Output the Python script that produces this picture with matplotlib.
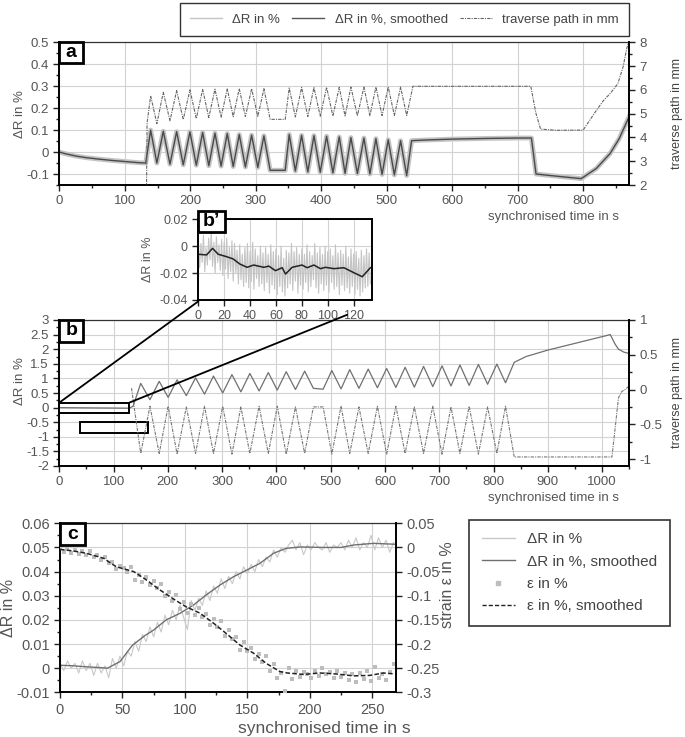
import matplotlib
matplotlib.use("Agg")
import matplotlib.pyplot as plt
from matplotlib.lines import Line2D
from matplotlib.patches import Rectangle, ConnectionPatch
from matplotlib.ticker import MultipleLocator, FuncFormatter

plt.rcParams['font.family'] = ['Liberation Sans', 'DejaVu Sans']

# ---- panel a : resistance change + traverse path ----------------------
a_pre_t = [0, 10, 25, 40, 60, 80, 100, 120, 132]
a_pre_dr = [0.0, -0.008, -0.018, -0.025, -0.032, -0.038, -0.043, -0.048, -0.05]
a_pk1_t = [139.5, 158.8, 179.2, 199.5, 218.9, 237.7, 256.5, 274.8, 293.7, 312.5]
a_pk1_dr = [0.100, 0.095, 0.093, 0.092, 0.089, 0.086, 0.084, 0.080, 0.077, 0.074]
a_pk1_tp = [5.75, 5.90, 5.97, 6.00, 6.02, 6.03, 6.04, 6.05, 6.05, 6.05]
a_tr1_t = [149, 169, 189.3, 209.2, 228.3, 247.1, 265.6, 284.2, 303.1]
a_tr1_dr = [-0.050, -0.055, -0.058, -0.060, -0.062, -0.064, -0.066, -0.068, -0.070]
a_tr1_tp = [4.58, 4.70, 4.75, 4.79, 4.83, 4.85, 4.87, 4.88, 4.88]
a_gap_t = [322, 345]
a_gap_dr = [-0.083, -0.083]
a_gap_tp = [4.76, 4.76]
a_pk2_t = [351.1, 370.0, 388.9, 408.2, 427.5, 445.3, 465.2, 483.5, 502.3, 521.2]
a_pk2_dr = [0.080, 0.076, 0.075, 0.072, 0.069, 0.066, 0.064, 0.061, 0.056, 0.052]
a_pk2_tp = [6.08, 6.10, 6.10, 6.11, 6.11, 6.12, 6.12, 6.12, 6.12, 6.12]
a_tr2_t = [360.5, 379.5, 398.5, 417.8, 436.4, 455.2, 474.3, 492.9, 511.7, 530.5]
a_tr2_dr = [-0.086, -0.090, -0.092, -0.095, -0.097, -0.098, -0.100, -0.102, -0.104, -0.107]
a_tr2_tp = [4.86, 4.88, 4.89, 4.90, 4.90, 4.91, 4.91, 4.92, 4.92, 4.92]
a_post_t = [538, 560, 600, 650, 700, 721, 728, 760, 797, 820, 841, 855, 870]
a_post_dr = [0.052, 0.055, 0.059, 0.062, 0.064, 0.064, -0.100, -0.110, -0.121, -0.075, -0.007, 0.061, 0.160]
a_tp_pre_t = [133, 134]
a_tp_pre = [1.0, 4.6]
a_tp_post_t = [540, 600, 720, 728, 735, 760, 800, 820, 831, 841, 853, 861, 866, 869]
a_tp_post = [6.15, 6.15, 6.15, 5.0, 4.35, 4.30, 4.31, 5.13, 5.55, 5.84, 6.26, 6.97, 7.67, 8.0]

# ---- panel b' : zoom of the first 134 s -------------------------------
bp_smooth_t = [0, 6.4, 11, 15.4, 21.9, 27, 32, 37.7, 42.8, 50.6, 54.5, 59.6, 64.8, 67.4,
               72.5, 80.2, 84.1, 89.3, 94.4, 98.3, 104.8, 112.5, 120.2, 126.7, 133]
bp_smooth = [-0.006, -0.0065, -0.0016, -0.006, -0.0078, -0.0095, -0.0132, -0.0157, -0.014,
             -0.0157, -0.0148, -0.0182, -0.016, -0.0207, -0.0157, -0.014, -0.016, -0.014,
             -0.0167, -0.0157, -0.0167, -0.016, -0.0197, -0.0227, -0.016]
bp_raw = [0.004, -0.016, 0.002, -0.012, 0.008, -0.019, -0.001, -0.014, 0.006, -0.010,
          0.010, -0.015, 0.003, -0.020, 0.007, -0.012, 0.001, -0.018, 0.005, -0.022,
          0.003, -0.017, 0.006, -0.024, -0.001, -0.019, 0.004, -0.026, 0.002, -0.020,
          -0.003, -0.028, 0.001, -0.025, -0.006, -0.030, -0.001, -0.027, 0.002, -0.031,
          -0.004, -0.026, 0.003, -0.032, -0.002, -0.024, -0.007, -0.030, 0.000, -0.028,
          -0.005, -0.033, -0.001, -0.027, -0.006, -0.035, 0.001, -0.029, -0.004, -0.032,
          -0.002, -0.036, -0.007, -0.030, 0.000, -0.034, -0.009, -0.037, -0.003, -0.031,
          -0.005, -0.028, 0.002, -0.033, -0.004, -0.026, -0.001, -0.035, -0.006, -0.029,
          -0.002, -0.032, -0.006, -0.027, 0.001, -0.034, -0.004, -0.030, -0.007, -0.025,
          0.002, -0.031, -0.005, -0.035, -0.001, -0.028, -0.006, -0.033, 0.000, -0.029,
          -0.004, -0.034, -0.002, -0.027, -0.007, -0.032, 0.001, -0.030, -0.005, -0.036,
          -0.003, -0.029, -0.006, -0.033, 0.000, -0.031, -0.008, -0.035, -0.002, -0.030,
          -0.006, -0.036, -0.004, -0.032, -0.009, -0.037, -0.003, -0.034, -0.007, -0.031,
          -0.002, -0.030, -0.005, -0.028]
bp_raw_t = list(range(len(bp_raw)))

# ---- panel b : long test ----------------------------------------------
b_pre_t = [0, 60, 129, 136]
b_pre_dr = [0.0, -0.01, -0.02, 0.05]
b_bot_t = [150, 184, 217, 251, 284, 318, 351, 385, 418, 452,
           502, 535, 569, 603, 637, 671, 705, 738, 772, 806]
b_bot_dr = [0.83, 0.90, 0.95, 1.02, 1.08, 1.13, 1.17, 1.20, 1.23, 1.25,
            1.27, 1.30, 1.32, 1.34, 1.38, 1.41, 1.43, 1.46, 1.48, 1.49]
b_bot_tp = [-0.92, -0.92, -0.93, -0.92, -0.92, -0.93, -0.92, -0.92, -0.93, -0.92,
            -0.93, -0.92, -0.92, -0.93, -0.92, -0.92, -0.93, -0.92, -0.93, -0.92]
b_top_t = [167, 200.5, 234, 267.5, 301, 334.5, 368, 401.5, 435, 468, 486,
           519, 552, 586, 620, 654, 688, 721.5, 755, 789, 822]
b_top_dr = [0.27, 0.35, 0.41, 0.46, 0.50, 0.54, 0.57, 0.60, 0.62, 0.66, 0.63,
            0.64, 0.66, 0.68, 0.69, 0.70, 0.72, 0.74, 0.76, 0.80, 0.85]
b_top_tp = [-0.24, -0.24, -0.25, -0.24, -0.24, -0.25, -0.24, -0.24, -0.25, -0.25, -0.25,
            -0.24, -0.25, -0.24, -0.24, -0.25, -0.24, -0.25, -0.24, -0.25, -0.24]
b_post_t = [838, 860, 900, 950, 1000, 1015, 1023, 1030, 1040, 1050]
b_post_dr = [1.55, 1.75, 1.97, 2.20, 2.43, 2.50, 2.20, 2.00, 1.90, 1.85]
b_tp_pre_t = [133]
b_tp_pre = [0.02]
b_tp_post_t = [838, 1018, 1024, 1030, 1036, 1042, 1050]
b_tp_post = [-0.97, -0.97, -0.55, -0.12, -0.03, 0.0, 0.05]

# ---- panel c : single bending step ------------------------------------
c_smooth_t = [0, 10, 20, 30, 38, 48, 58, 68, 75, 85, 96, 107, 117, 128, 139, 149, 160,
              171, 181, 192, 210, 225, 235, 251, 269]
c_smooth = [0.0012, 0.001, 0.0006, 0.0003, 0.0, 0.0027, 0.0095, 0.0135, 0.0158, 0.02,
            0.0227, 0.0262, 0.0303, 0.0344, 0.0379, 0.0405, 0.0434, 0.0476, 0.0496,
            0.0502, 0.05, 0.05, 0.051, 0.0517, 0.0513]
c_raw = [0.002, -0.001, 0.003, 0.000, 0.002, -0.002, 0.003, -0.001, 0.002, -0.003,
         0.002, -0.002, 0.001, -0.004, 0.004, 0.000, 0.005, 0.001, 0.007, 0.005,
         0.011, 0.007, 0.014, 0.011, 0.017, 0.013, 0.019, 0.015, 0.022, 0.018,
         0.024, 0.020, 0.026, 0.021, 0.016, 0.028, 0.024, 0.029, 0.026, 0.032,
         0.028, 0.034, 0.031, 0.037, 0.033, 0.038, 0.035, 0.040, 0.037, 0.042,
         0.039, 0.043, 0.040, 0.045, 0.042, 0.046, 0.044, 0.049, 0.046, 0.050,
         0.048, 0.051, 0.053, 0.049, 0.052, 0.047, 0.051, 0.049, 0.052, 0.050,
         0.049, 0.052, 0.048, 0.051, 0.050, 0.052, 0.049, 0.053, 0.050, 0.054,
         0.049, 0.052, 0.050, 0.055, 0.049, 0.054, 0.050, 0.053, 0.048, 0.052]
c_raw_t = list(range(0, 3 * len(c_raw), 3))
c_eps_smooth_t = [0, 10, 21, 35, 45, 59, 69, 80, 91, 101, 112, 123, 133, 144, 155, 165,
                  176, 182, 195, 208, 221, 235, 248, 259, 268]
c_eps_smooth = [-0.004, -0.007, -0.012, -0.0225, -0.04, -0.05, -0.067, -0.088, -0.107,
                -0.123, -0.136, -0.157, -0.178, -0.202, -0.219, -0.24, -0.257, -0.26,
                -0.263, -0.26, -0.262, -0.266, -0.265, -0.26, -0.262]
c_eps = [-0.002, -0.010, -0.003, -0.012, -0.006, -0.014, -0.008, -0.015, -0.007, -0.020,
         -0.016, -0.025, -0.020, -0.033, -0.030, -0.045, -0.038, -0.043, -0.050, -0.040,
         -0.068, -0.058, -0.072, -0.062, -0.078, -0.070, -0.084, -0.075, -0.100, -0.092,
         -0.110, -0.098, -0.128, -0.112, -0.135, -0.118, -0.140, -0.125, -0.145, -0.138,
         -0.160, -0.148, -0.165, -0.152, -0.184, -0.170, -0.190, -0.186, -0.212, -0.195,
         -0.215, -0.208, -0.232, -0.220, -0.238, -0.225, -0.255, -0.242, -0.270, -0.260,
         -0.298, -0.250, -0.272, -0.256, -0.268, -0.258, -0.262, -0.270, -0.255, -0.266,
         -0.250, -0.262, -0.258, -0.270, -0.256, -0.268, -0.260, -0.274, -0.262, -0.278,
         -0.260, -0.272, -0.255, -0.276, -0.248, -0.270, -0.262, -0.274, -0.258, -0.242]
c_eps_t = list(range(0, 3 * len(c_eps), 3))

W, H = 685, 737
TXT = '#555555'
GRID = '#d2d2d2'


def px_box(l, t, r, b):
    """figure-fraction rect from pixel edges"""
    return [l / W, 1 - b / H, (r - l) / W, (b - t) / H]


def merged(*parts):
    pts = sorted((t, v) for ts, vs in parts for t, v in zip(ts, vs))
    return [p[0] for p in pts], [p[1] for p in pts]


def g_fmt(v, pos):
    v = round(v, 6)
    if v == 0:
        v = 0.0
    return '%g' % v


def style(ax, size, twin=None):
    ax.grid(True, which='major', color=GRID, lw=0.8)
    ax.set_axisbelow(True)
    for a in [ax] + ([twin] if twin else []):
        a.tick_params(which='both', direction='out', color='#222', labelcolor=TXT,
                      labelsize=size, width=1)
        a.tick_params(which='major', length=4)
        a.tick_params(which='minor', length=2.5)
        a.xaxis.set_major_formatter(FuncFormatter(g_fmt))
        a.yaxis.set_major_formatter(FuncFormatter(g_fmt))
    ax.spines['left'].set_linewidth(1.4)
    ax.spines['bottom'].set_linewidth(1.4)
    ax.spines['top'].set_linewidth(0.9)
    ax.spines['top'].set_color('#333')
    ax.spines['right'].set_linewidth(1.4)
    if twin:
        ax.spines['right'].set_visible(False)
        for s in ('left', 'top', 'bottom'):
            twin.spines[s].set_visible(False)
        twin.spines['right'].set_linewidth(1.4)


def letter(text, l, t, r, b, size=14):
    fig.add_artist(Rectangle((l / W, 1 - b / H), (r - l) / W, (b - t) / H,
                             transform=fig.transFigure, fc='white', ec='black',
                             lw=2, zorder=10))
    fig.text((l + r) / 2 / W, 1 - (t + b) / 2 / H, text, ha='center', va='center',
             fontsize=size, fontweight='bold', zorder=11)


fig = plt.figure(figsize=(W / 100, H / 100), dpi=100)

# ---- a ----------------------------------------------------------------
ax_a = fig.add_axes(px_box(59.3, 42.3, 629, 185))
ax_a2 = ax_a.twinx()
a_t, a_dr = merged((a_pre_t, a_pre_dr), (a_pk1_t, a_pk1_dr), (a_tr1_t, a_tr1_dr),
                   (a_gap_t, a_gap_dr), (a_pk2_t, a_pk2_dr), (a_tr2_t, a_tr2_dr),
                   (a_post_t, a_post_dr))
a_tt, a_tp = merged((a_tp_pre_t, a_tp_pre), (a_pk1_t, a_pk1_tp), (a_tr1_t, a_tr1_tp),
                    (a_gap_t, a_gap_tp), (a_pk2_t, a_pk2_tp), (a_tr2_t, a_tr2_tp),
                    (a_tp_post_t, a_tp_post))
ax_a.plot(a_t, a_dr, color='#c4c4c4', lw=3.5, solid_joinstyle='round')
ax_a.plot(a_t, a_dr, color='#4a4a4a', lw=1.0)
ax_a2.plot(a_tt, a_tp, color='#666666', lw=0.8, ls=(0, (3, 1, 1, 1)))
ax_a.set_xlim(0, 870)
ax_a.set_ylim(-0.15, 0.5)
ax_a2.set_ylim(2, 8)
ax_a.xaxis.set_major_locator(MultipleLocator(100))
ax_a.xaxis.set_minor_locator(MultipleLocator(50))
ax_a.yaxis.set_major_locator(MultipleLocator(0.1))
ax_a.yaxis.set_minor_locator(MultipleLocator(0.05))
ax_a2.yaxis.set_major_locator(MultipleLocator(1))
ax_a2.yaxis.set_minor_locator(MultipleLocator(0.5))
style(ax_a, 9.5, ax_a2)
ax_a.set_ylabel('ΔR in %', fontsize=9.5, color=TXT)
ax_a.yaxis.set_label_coords(-0.058, 0.5)
ax_a2.set_ylabel('traverse path in mm', fontsize=9, color='#444')
ax_a2.yaxis.set_label_coords(1.0737, 0.5)
fig.text(619 / W, 1 - 217 / H, 'synchronised time in s', ha='right', va='center',
         fontsize=9.5, color=TXT)

leg_a = fig.legend([Line2D([], [], color='#c4c4c4', lw=1),
                    Line2D([], [], color='#555555', lw=1),
                    Line2D([], [], color='#666666', lw=0.8, ls=(0, (3, 1, 1, 1)))],
                   ['ΔR in %', 'ΔR in %, smoothed', 'traverse path in mm'],
                   loc='center', ncol=3, mode='expand', borderaxespad=0,
                   bbox_to_anchor=tuple(px_box(180, 2, 629, 37)), fontsize=9.5,
                   handlelength=2.4, borderpad=0.75, fancybox=False, edgecolor='black',
                   labelcolor='#444')
leg_a.get_frame().set_linewidth(1.0)

# ---- b ----------------------------------------------------------------
ax_b = fig.add_axes(px_box(59.3, 320, 629.3, 466))
ax_b2 = ax_b.twinx()
b_t, b_dr = merged((b_pre_t, b_pre_dr), (b_bot_t, b_bot_dr), (b_top_t, b_top_dr),
                   (b_post_t, b_post_dr))
b_tt, b_tp = merged((b_tp_pre_t, b_tp_pre), (b_bot_t, b_bot_tp), (b_top_t, b_top_tp),
                    (b_tp_post_t, b_tp_post))
ax_b.plot(b_t, b_dr, color='#707070', lw=0.9)
ax_b2.plot(b_tt, b_tp, color='#777777', lw=0.8, ls=(0, (3, 1, 1, 1)))
ax_b.set_xlim(0, 1050)
ax_b.set_ylim(-2, 3)
ax_b2.set_ylim(-1.1, 1)
ax_b.xaxis.set_major_locator(MultipleLocator(100))
ax_b.xaxis.set_minor_locator(MultipleLocator(50))
ax_b.yaxis.set_major_locator(MultipleLocator(0.5))
ax_b.yaxis.set_minor_locator(MultipleLocator(0.25))
ax_b2.yaxis.set_major_locator(MultipleLocator(0.5))
ax_b2.yaxis.set_minor_locator(MultipleLocator(0.25))
style(ax_b, 9.5, ax_b2)
ax_b.set_ylabel('ΔR in %', fontsize=9.5, color=TXT)
ax_b.yaxis.set_label_coords(-0.058, 0.58)
ax_b2.set_ylabel('traverse path in mm', fontsize=9, color='#444')
ax_b2.yaxis.set_label_coords(1.0732, 0.5)
fig.text(619 / W, 1 - 498 / H, 'synchronised time in s', ha='right', va='center',
         fontsize=9.5, color=TXT)
ax_b.add_patch(Rectangle((0, -0.19), 129, 0.36, fill=False, ec='black', lw=1.4,
                         zorder=5, clip_on=False))
ax_b.add_patch(Rectangle((38.5, -0.86), 125.5, 0.38, fill=False, ec='black', lw=1.4,
                         zorder=5, clip_on=False))

# ---- b' ---------------------------------------------------------------
ax_bp = fig.add_axes(px_box(198.3, 219.3, 371.7, 300))
ax_bp.plot(bp_raw_t, bp_raw, color='#c4c4c4', lw=0.8)
ax_bp.plot(bp_smooth_t, bp_smooth, color='#222222', lw=1.1)
ax_bp.set_xlim(0, 134)
ax_bp.set_ylim(-0.04, 0.02)
ax_bp.xaxis.set_major_locator(MultipleLocator(20))
ax_bp.yaxis.set_major_locator(MultipleLocator(0.02))
style(ax_bp, 9)
for s in ('top', 'right'):
    ax_bp.spines[s].set_linewidth(1.4)
    ax_bp.spines[s].set_color('black')
ax_bp.set_ylabel('ΔR in %', fontsize=9, color=TXT)
ax_bp.yaxis.set_label_coords(-0.255, 0.5)

for xa, xb in [((0, 0.17), (0, -0.041)), ((129, 0.17), (115, -0.051))]:
    con = ConnectionPatch(xyA=xa, coordsA=ax_b.transData, xyB=xb,
                          coordsB=ax_bp.transData, color='black', lw=1.3, zorder=6)
    fig.add_artist(con)

# ---- c ----------------------------------------------------------------
ax_c = fig.add_axes(px_box(60, 523.3, 396, 692.3))
ax_c2 = ax_c.twinx()
ax_c.plot(c_raw_t, c_raw, color='#c8c8c8', lw=0.8)
ax_c.plot(c_smooth_t, c_smooth, color='#707070', lw=1.0)
ax_c2.scatter(c_eps_t, c_eps, marker='s', s=9, color='#bdbdbd', lw=0)
ax_c2.plot(c_eps_smooth_t, c_eps_smooth, color='#222222', lw=1.1, ls=(0, (3, 1.5)))
ax_c.set_xlim(0, 269)
ax_c.set_ylim(-0.01, 0.06)
ax_c2.set_ylim(-0.3, 0.05)
ax_c.xaxis.set_major_locator(MultipleLocator(50))
ax_c.xaxis.set_minor_locator(MultipleLocator(25))
ax_c.yaxis.set_major_locator(MultipleLocator(0.01))
ax_c.yaxis.set_minor_locator(MultipleLocator(0.005))
ax_c2.yaxis.set_major_locator(MultipleLocator(0.05))
style(ax_c, 10.5, ax_c2)
ax_c.set_ylabel('ΔR in %', fontsize=11.5, color=TXT)
ax_c.yaxis.set_label_coords(-0.13, 0.5)
ax_c2.set_ylabel('strain ε in %', fontsize=11.5, color=TXT)
ax_c2.yaxis.set_label_coords(1.131, 0.635)
fig.text(324 / W, 1 - 729 / H, 'synchronised time in s', ha='center', va='center',
         fontsize=12.5, color=TXT)

leg_c = fig.legend([Line2D([], [], color='#c8c8c8', lw=1),
                    Line2D([], [], color='#707070', lw=1),
                    Line2D([], [], color='#bdbdbd', marker='s', ms=3, ls='none'),
                    Line2D([], [], color='#222222', lw=1, ls=(0, (3, 1.5)))],
                   ['ΔR in %', 'ΔR in %, smoothed', 'ε in %', 'ε in %, smoothed'],
                   loc='upper left', bbox_to_anchor=(469.3 / W, 1 - 520 / H),
                   borderaxespad=0, fontsize=11, handlelength=2.2, borderpad=0.8,
                   labelspacing=0.55, fancybox=False, edgecolor='black',
                   labelcolor='#444')
leg_c.get_frame().set_linewidth(1.2)

letter('a', 59.3, 42.3, 82.7, 63.3)
letter('b', 59.3, 320, 83.3, 341.7)
letter('b’', 198.3, 210.7, 225, 231.7)
letter('c', 60, 523.3, 85, 545)

fig.savefig('out.png', dpi=100)
